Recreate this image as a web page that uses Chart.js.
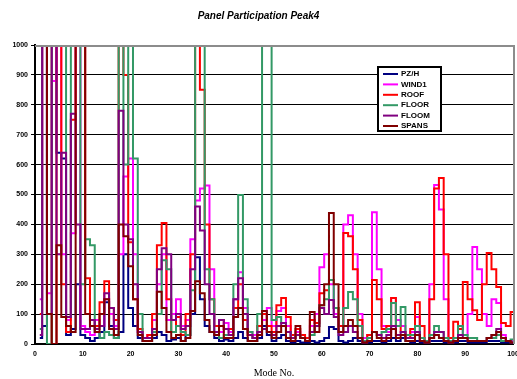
<!DOCTYPE html>
<html><head><meta charset="utf-8">
<script src="https://cdn.jsdelivr.net/npm/chart.js@4/dist/chart.umd.min.js"></script>
<style>html,body{margin:0;padding:0;background:#fff}#wrap{width:517px;height:379px}</style>
</head><body><div id="wrap"><canvas id="c" width="517" height="379"></canvas></div>
<script>
const modes = [1,2,3,4,5,6,7,8,9,10,11,12,13,14,15,16,17,18,19,20,21,22,23,24,25,26,27,28,29,30,31,32,33,34,35,36,37,38,39,40,41,42,43,44,45,46,47,48,49,50,51,52,53,54,55,56,57,58,59,60,61,62,63,64,65,66,67,68,69,70,71,72,73,74,75,76,77,78,79,80,81,82,83,84,85,86,87,88,89,90,91,92,93,94,95,96,97,98,99,100];
const seriesNames = ["PZ/H","WIND1","ROOF","FLOOR","FLOOM","SPANS"];
const yTicks = [0,100,200,300,400,500,600,700,800,900,1000];
const xTicks = [0,10,20,30,40,50,60,70,80,90,100];

const pzh = [20,60,1500,1200,640,620,30,50,200,30, 20,10,20,40,140,60,20,40,300,120,
  60,20,10,10,20,40,30,10,15,20, 10,30,100,290,150,60,40,20,10,15,
  10,20,40,20,10,10,20,60,30,10, 20,30,10,5,10,5,5,10,5,10,
  20,57,50,10,5,10,20,10,5,5, 10,10,5,10,20,10,20,10,5,10,
  5,5,10,10,10,5,5,5,10,10, 5,5,5,5,10,10,10,5,5,5];
const wind1 = [150,1500,170,880,1500,300,80,370,1500,60, 40,30,80,60,150,100,60,300,560,620,
  300,40,20,30,80,200,300,80,100,150, 60,80,350,480,520,530,250,60,40,70,
  40,150,240,120,40,30,60,80,120,60, 110,120,60,20,40,20,20,60,100,257,
  300,200,100,40,400,431,300,100,20,30, 441,250,60,40,154,80,60,20,40,90,
  20,10,200,532,450,150,10,20,60,30, 100,324,250,100,60,150,137,30,10,10];
const roof = [100,1500,1500,0,1500,200,40,750,1500,1500, 220,80,60,140,210,120,80,1500,900,340,
  150,50,20,30,100,330,405,150,40,90, 30,100,300,1500,850,400,150,60,80,50,
  50,120,200,80,30,20,60,100,60,40, 130,154,90,30,50,30,20,80,70,170,
  180,147,120,60,371,360,250,80,10,30, 214,150,50,60,154,60,40,20,50,140,
  60,10,150,520,555,300,20,74,50,207, 150,113,80,200,304,250,191,70,60,107];
const floor = [50,1500,0,1500,1500,1500,90,1500,1500,200, 350,330,40,20,40,30,20,1500,600,1500,
  620,100,20,20,40,100,280,250,40,60, 40,30,180,1500,1500,250,150,40,20,30,
  30,200,498,150,40,20,100,1500,1500,80, 90,70,40,20,30,20,10,30,60,130,
  150,214,120,40,120,174,150,60,10,20, 40,30,40,50,137,60,124,30,30,60,
  20,10,30,60,40,20,10,20,60,30, 20,20,10,10,20,20,30,10,10,15];
const floom = [30,1500,100,1500,300,640,90,770,400,50, 50,80,50,60,170,120,50,780,400,350,
  200,40,20,20,50,250,320,300,80,100, 50,60,250,460,380,200,100,40,80,50,
  30,150,220,100,30,20,40,50,40,30, 60,70,40,20,30,20,10,40,60,120,
  100,147,90,30,40,60,40,20,5,10, 40,30,20,30,60,30,40,20,20,40,
  10,5,20,40,40,10,5,10,30,20, 10,10,10,10,20,30,50,20,10,5];
const spans = [1500,1500,100,0,330,90,60,40,1500,1500, 100,60,40,100,150,50,30,400,360,260,
  150,30,10,10,30,175,120,40,20,30, 10,20,110,210,170,80,40,30,60,20,
  20,90,120,50,10,10,30,110,40,20, 40,60,20,10,60,20,10,107,40,130,
  200,438,200,40,60,80,60,20,5,10, 40,20,10,20,50,20,30,10,10,30,
  10,5,20,30,20,10,5,10,20,20, 10,10,10,10,20,30,40,20,10,5];

const allSeries = [pzh, wind1, roof, floor, floom, spans];
const colors = ["#000080","#FF00FF","#FF0000","#339966","#800080","#800000"];

const datasets = allSeries.map((vals, i) => ({
  label: seriesNames[i],
  data: vals.map((v, j) => ({x: modes[j], y: v})),
  borderColor: colors[i],
  backgroundColor: colors[i],
  borderWidth: 2,
  pointRadius: 0,
  tension: 0,
  stepped: 'middle',
  order: 6 - i
}));

const frameLegend = {
  id: 'frameLegend',
  afterDraw(chart) {
    const ctx = chart.ctx, a = chart.chartArea;
    ctx.save();
    ctx.strokeStyle = '#8c8c8c';
    ctx.lineWidth = 2;
    ctx.beginPath();
    ctx.moveTo(a.left, a.top + 1); ctx.lineTo(a.right + 1, a.top + 1);
    ctx.lineTo(a.right + 1, a.bottom);
    ctx.stroke();
    const bx = 378, by = 67, bw = 63, bh = 64;
    ctx.fillStyle = '#fff';
    ctx.fillRect(bx, by, bw, bh);
    ctx.strokeStyle = '#000';
    ctx.lineWidth = 2;
    ctx.strokeRect(bx, by, bw, bh);
    ctx.font = 'bold 8px "Liberation Sans", Arial, sans-serif';
    ctx.textBaseline = 'middle';
    ctx.textAlign = 'left';
    chart.data.datasets.forEach((ds, i) => {
      const y = by + 7 + i * 10.4;
      ctx.strokeStyle = ds.borderColor;
      ctx.lineWidth = 2;
      ctx.beginPath(); ctx.moveTo(bx + 5, y); ctx.lineTo(bx + 20, y); ctx.stroke();
      ctx.fillStyle = '#000';
      ctx.fillText(ds.label, bx + 23, y);
    });
    ctx.restore();
  }
};

new Chart(document.getElementById('c'), {
  type: 'line',
  data: { datasets },
  options: {
    responsive: false,
    animation: false,
    layout: { padding: { left: 0, right: 0, top: 0, bottom: 0 } },
    plugins: {
      legend: { display: false },
      tooltip: { enabled: false },
      title: {
        display: true,
        text: 'Panel Participation Peak4',
        color: '#000',
        font: { family: '"Liberation Sans", Arial, sans-serif', size: 10, weight: 'bold', style: 'italic' },
        padding: { top: 10, bottom: 23 }
      }
    },
    scales: {
      x: {
        type: 'linear', min: 0, max: 100,
        afterBuildTicks: s => { s.ticks = xTicks.map(v => ({value: v})); },
        afterFit: s => { s.height = 35; s.paddingRight = 4; s.paddingLeft = 0; },
        grid: { display: false, drawTicks: false },
        border: { display: true, color: '#000', width: 2 },
        ticks: { color: '#000', padding: 6, maxRotation: 0, autoSkip: false,
          font: { family: '"Liberation Sans", Arial, sans-serif', size: 7, weight: 'bold' } },
        title: { display: true, text: 'Mode No.', color: '#000', padding: { top: 0, bottom: 0 },
          font: { family: '"Liberation Serif", "DejaVu Serif", serif', size: 10 } }
      },
      y: {
        min: 0, max: 1000,
        afterBuildTicks: s => { s.ticks = yTicks.map(v => ({value: v})); },
        afterFit: s => { s.width = 35; },
        grid: { color: c => (c.tick && c.tick.value === 1000) ? 'rgba(0,0,0,0)' : '#000', lineWidth: 1, tickLength: 4, tickColor: '#000' },
        border: { display: true, color: '#000', width: 2 },
        ticks: { color: '#000', padding: 3, autoSkip: false,
          callback: v => String(v),
          font: { family: '"Liberation Sans", Arial, sans-serif', size: 7, weight: 'bold' } }
      }
    }
  },
  plugins: [frameLegend]
});
</script></body></html>
